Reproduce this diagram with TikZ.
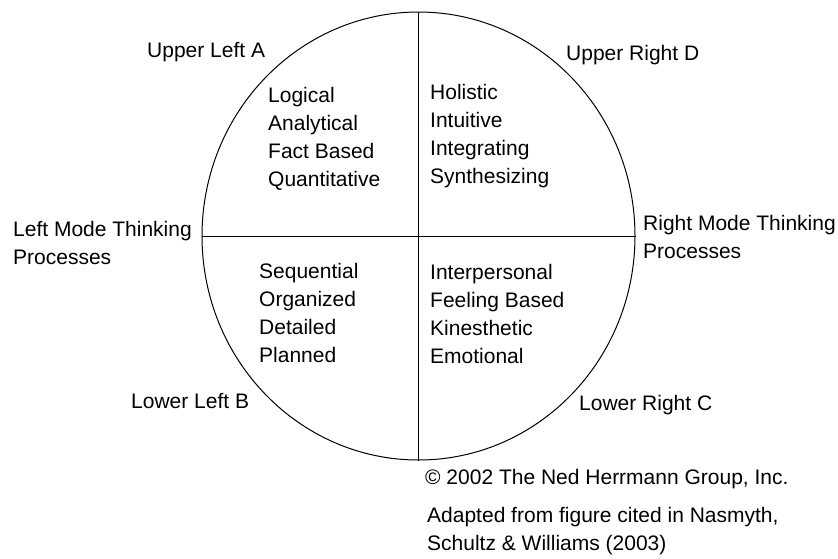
\documentclass[tikz,border=0pt]{standalone}
\usepackage{fontspec}
\setmainfont{Liberation Sans}
\usetikzlibrary{shapes.geometric}
\tikzset{
  hm/ring/.style={
    ellipse,
    draw=black,
    line width=1pt,
    minimum width=433pt,
    minimum height=448pt,
    inner sep=0pt
  },
  hm/axis/.style={line width=1pt, draw=black},
  hm/text/.style={
    anchor=west,
    align=left,
    inner sep=0pt,
    text=black,
    font=\fontsize{21}{28}\selectfont
  }
}

\begin{document}
\begin{tikzpicture}[x=1pt,y=-1pt]
  \useasboundingbox (0,0) rectangle (838,558);
  \node[hm/ring] (brain) at (418.5,236) {};
  \draw[hm/axis] (brain.north) -- (brain.south);
  \draw[hm/axis] (brain.west) -- (brain.east);
  % quadrant names
  \node[hm/text] (ulA) at (147,52) {Upper Left A};
  \node[hm/text] (urD) at (566,55) {Upper Right D};
  \node[hm/text] (llB) at (131,401) {Lower Left B};
  \node[hm/text] (lrC) at (579,405) {Lower Right C};
  % mode labels
  \node[hm/text] (lmode) at (13,243) {Left Mode Thinking\\Processes};
  \node[hm/text] (rmode) at (643,237) {Right Mode Thinking\\Processes};
  % quadrant contents
  \node[hm/text] (qA) at (268,139) {Logical\\Analytical\\Fact Based\\Quantitative};
  \node[hm/text] (qD) at (430,136) {Holistic\\Intuitive\\Integrating\\Synthesizing};
  \node[hm/text] (qB) at (259,313) {Sequential\\Organized\\Detailed\\Planned};
  \node[hm/text] (qC) at (430,314) {Interpersonal\\Feeling Based\\Kinesthetic\\Emotional};
  % source notes
  \node[hm/text] (copy) at (425,479) {\textcopyright{} 2002 The Ned Herrmann Group, Inc.};
  \node[hm/text] (src) at (427,531) {Adapted from figure cited in Nasmyth,\\Schultz \& Williams (2003)};
\end{tikzpicture}
\end{document}
